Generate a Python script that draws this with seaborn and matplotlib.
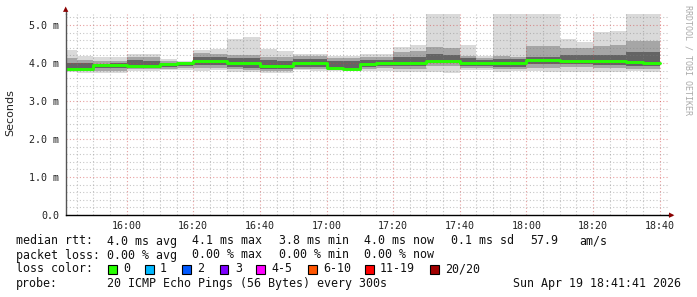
import numpy as np
import pandas as pd
import matplotlib
matplotlib.use("Agg")
import matplotlib.pyplot as plt
import matplotlib.dates as mdates
import matplotlib.ticker as mticker
from matplotlib.patches import Rectangle
import seaborn as sns

# ---- data (milliseconds), one value per 5-minute step ending at block_end ----
block_end = pd.date_range("2026-04-19 15:45", "2026-04-19 18:40", freq="5min")

rtt_max = [4.34, 4.19, 4.17, 4.17, 4.24, 4.24, 4.10, 4.06, 4.34, 4.37, 4.63, 4.69,
           4.37, 4.32, 4.24, 4.24, 4.19, 4.19, 4.25, 4.25, 4.43, 4.48, 5.29, 5.29,
           4.48, 4.19, 5.29, 5.29, 5.29, 5.29, 4.63, 4.54, 4.81, 4.83, 5.29, 5.29]
rtt_p90 = [4.12, 4.08, 4.06, 4.06, 4.17, 4.15, 4.04, 4.03, 4.27, 4.25, 4.21, 4.21,
           4.17, 4.15, 4.19, 4.19, 4.12, 4.12, 4.17, 4.17, 4.30, 4.32, 4.43, 4.40,
           4.19, 4.14, 4.19, 4.17, 4.45, 4.45, 4.40, 4.40, 4.46, 4.48, 4.59, 4.59]
rtt_p70 = [4.01, 4.01, 3.97, 3.99, 4.08, 4.06, 4.00, 4.01, 4.17, 4.17, 4.12, 4.12,
           4.08, 4.06, 4.10, 4.10, 4.04, 4.04, 4.08, 4.08, 4.17, 4.17, 4.25, 4.22,
           4.12, 4.08, 4.10, 4.10, 4.17, 4.17, 4.20, 4.20, 4.21, 4.22, 4.30, 4.30]
rtt_median = [3.85, 3.85, 3.95, 3.95, 3.93, 3.93, 3.97, 3.99, 4.04, 4.06, 3.99, 3.99,
              3.92, 3.92, 3.99, 4.01, 3.86, 3.85, 3.97, 4.01, 4.01, 4.01, 4.06, 4.06,
              4.01, 4.01, 4.01, 4.01, 4.08, 4.08, 4.06, 4.06, 4.06, 4.06, 4.03, 4.01]
rtt_p30 = [3.83, 3.82, 3.86, 3.87, 3.88, 3.88, 3.90, 3.91, 3.95, 3.96, 3.90, 3.88,
           3.85, 3.83, 3.90, 3.90, 3.84, 3.84, 3.90, 3.92, 3.92, 3.92, 4.00, 4.00,
           3.92, 3.92, 3.90, 3.90, 3.98, 3.98, 3.98, 3.98, 3.96, 3.96, 3.93, 3.93]
rtt_p10 = [3.80, 3.78, 3.80, 3.80, 3.84, 3.84, 3.85, 3.86, 3.86, 3.87, 3.83, 3.82,
           3.80, 3.78, 3.85, 3.85, 3.82, 3.83, 3.85, 3.86, 3.84, 3.84, 3.92, 3.92,
           3.86, 3.86, 3.84, 3.84, 3.88, 3.88, 3.90, 3.90, 3.88, 3.88, 3.85, 3.85]
rtt_min = [3.77, 3.75, 3.73, 3.73, 3.80, 3.80, 3.82, 3.82, 3.79, 3.82, 3.77, 3.77,
           3.74, 3.74, 3.82, 3.80, 3.80, 3.81, 3.80, 3.80, 3.77, 3.77, 3.77, 3.75,
           3.82, 3.82, 3.77, 3.80, 3.80, 3.77, 3.77, 3.77, 3.77, 3.77, 3.79, 3.77]

loss_labels = ["0", "1", "2", "3", "4-5", "6-10", "11-19", "20/20"]
loss_colors = ["#26ff00", "#00b8ff", "#0059ff", "#7e00ff", "#ff00ff", "#ff5500", "#ff0000", "#a10000"]

stats_rtt = ["4.0 ms avg", "4.1 ms max", "3.8 ms min", "4.0 ms now", "0.1 ms sd", "57.9", "am/s"]
stats_loss = ["0.00 % avg", "0.00 % max", "0.00 % min", "0.00 % now"]
probe_text = "20 ICMP Echo Pings (56 Bytes) every 300s"
stamp_text = "Sun Apr 19 18:41:41 2026"

# ---- build step series (value covers the 5 minutes ending at block_end) ----
step = pd.Timedelta("5min")
xs = [block_end[0] - step] + list(block_end)
def ext(a):
    return [a[0]] + list(a)

df = pd.DataFrame({"time": xs, "median": ext(rtt_median)})

sns.set_theme(style="white")
plt.rcParams["font.family"] = ["DejaVu Sans"]

W, H = 697, 297
fig = plt.figure(figsize=(W / 100, H / 100), dpi=100)
fig.patch.set_facecolor("white")
L, R, B, T = 66, 668, 215, 14
ax = fig.add_axes([L / W, 1 - B / H, (R - L) / W, (B - T) / H])
ax.set_facecolor("white")

bands = [
    (rtt_min, rtt_max, "#dadada"),
    (rtt_p10, rtt_p90, "#a6a6a6"),
    (rtt_p30, rtt_p70, "#646464"),
]
for lo, hi, c in bands:
    ax.fill_between(xs, ext(lo), ext(hi), step="pre", color=c, lw=0, zorder=1)

sns.lineplot(data=df, x="time", y="median", drawstyle="steps-pre",
             color=loss_colors[0], lw=2.1, ax=ax, zorder=4)

t0 = pd.Timestamp("2026-04-19 15:41:48")
t1 = pd.Timestamp("2026-04-19 18:42:30")
ax.set_xlim(t0, t1)
ax.set_ylim(0, (B - T) / 38.0)

ax.xaxis.set_major_locator(mdates.MinuteLocator(byminute=[0, 20, 40]))
ax.xaxis.set_minor_locator(mdates.MinuteLocator(byminute=range(0, 60, 5)))
ax.xaxis.set_major_formatter(mdates.DateFormatter("%H:%M"))
ax.yaxis.set_major_locator(mticker.MultipleLocator(1.0))
ax.yaxis.set_minor_locator(mticker.MultipleLocator(0.2))
ax.yaxis.set_major_formatter(mticker.FuncFormatter(lambda v, p: "0.0" if abs(v) < 1e-9 else f"{v:.1f} m"))

ax.grid(which="minor", color="#808080", alpha=0.45, lw=0.8, ls=(0, (1, 2)), zorder=3)
ax.grid(which="major", color="#d04040", alpha=0.5, lw=0.8, ls=(0, (1, 2)), zorder=3)
ax.set_axisbelow(False)
for line in ax.get_xgridlines() + ax.get_ygridlines():
    line.set_zorder(3)

mono = "DejaVu Sans Mono"
ax.tick_params(axis="both", which="both", length=0, labelsize=7.2, labelcolor="#222222")
ax.tick_params(axis="x", pad=4)
ax.tick_params(axis="y", pad=5)
for lab in ax.get_xticklabels() + ax.get_yticklabels():
    lab.set_family(mono)
ax.set_xlabel("")
ax.set_ylabel("")

for s in ["top", "right"]:
    ax.spines[s].set_visible(False)
ax.spines["left"].set_color("#555555")
ax.spines["left"].set_linewidth(1.0)
ax.spines["bottom"].set_color("#000000")
ax.spines["bottom"].set_linewidth(1.0)
ax.spines["left"].set_zorder(5)
ax.spines["bottom"].set_zorder(5)

# axis arrows
fig.lines.append(plt.Line2D([R / W, 672 / W], [1 - B / H, 1 - B / H], color="black", lw=1.0, transform=fig.transFigure))
fig.lines.append(plt.Line2D([L / W, L / W], [1 - T / H, 1 - 10 / H], color="#555555", lw=1.0, transform=fig.transFigure))
fig.text(672 / W, 1 - B / H, "\u25B6", color="#8b0000", fontsize=5, ha="center", va="center")
fig.text(L / W, 1 - 9 / H, "\u25B2", color="#8b0000", fontsize=5, ha="center", va="center")

fig.text(10 / W, 1 - 113 / H, "Seconds", rotation=90, ha="center", va="center",
         fontsize=8, color="#222222")
fig.text(688 / W, 1 - 5 / H, "RRDTOOL / TOBI OETIKER", rotation=270, ha="center", va="top",
         fontsize=6, color="#aaaaaa", family=mono)

fs = 8.4
def txt(x, y, s, ha="left"):
    fig.text(x / W, 1 - y / H, s, ha=ha, va="center", fontsize=fs, family=mono, color="#111111")

y1, y2, y3, y4 = 241, 255, 269, 283
txt(16, y1, "median rtt:")
for s, x in zip(stats_rtt, [107, 192, 279, 364, 451, 530, 579]):
    txt(x, y1, s)
txt(16, y2, "packet loss:")
for s, x in zip(stats_loss, [107, 192, 279, 364]):
    txt(x, y2, s)
txt(16, y3, "loss color:")
sq_x = [108, 145, 182, 220, 256, 308, 365, 430]
for lab, c, x in zip(loss_labels, loss_colors, sq_x):
    fig.patches.append(Rectangle((x / W, 1 - (y3 + 4.5) / H), 8.5 / W, 9 / H, facecolor=c,
                                 edgecolor="black", lw=0.8, transform=fig.transFigure))
    txt(x + 15, y3, lab)
txt(16, y4, "probe:")
txt(107, y4, probe_text)
txt(681, y4, stamp_text, ha="right")

fig.savefig("out.png", dpi=100, facecolor="white")
